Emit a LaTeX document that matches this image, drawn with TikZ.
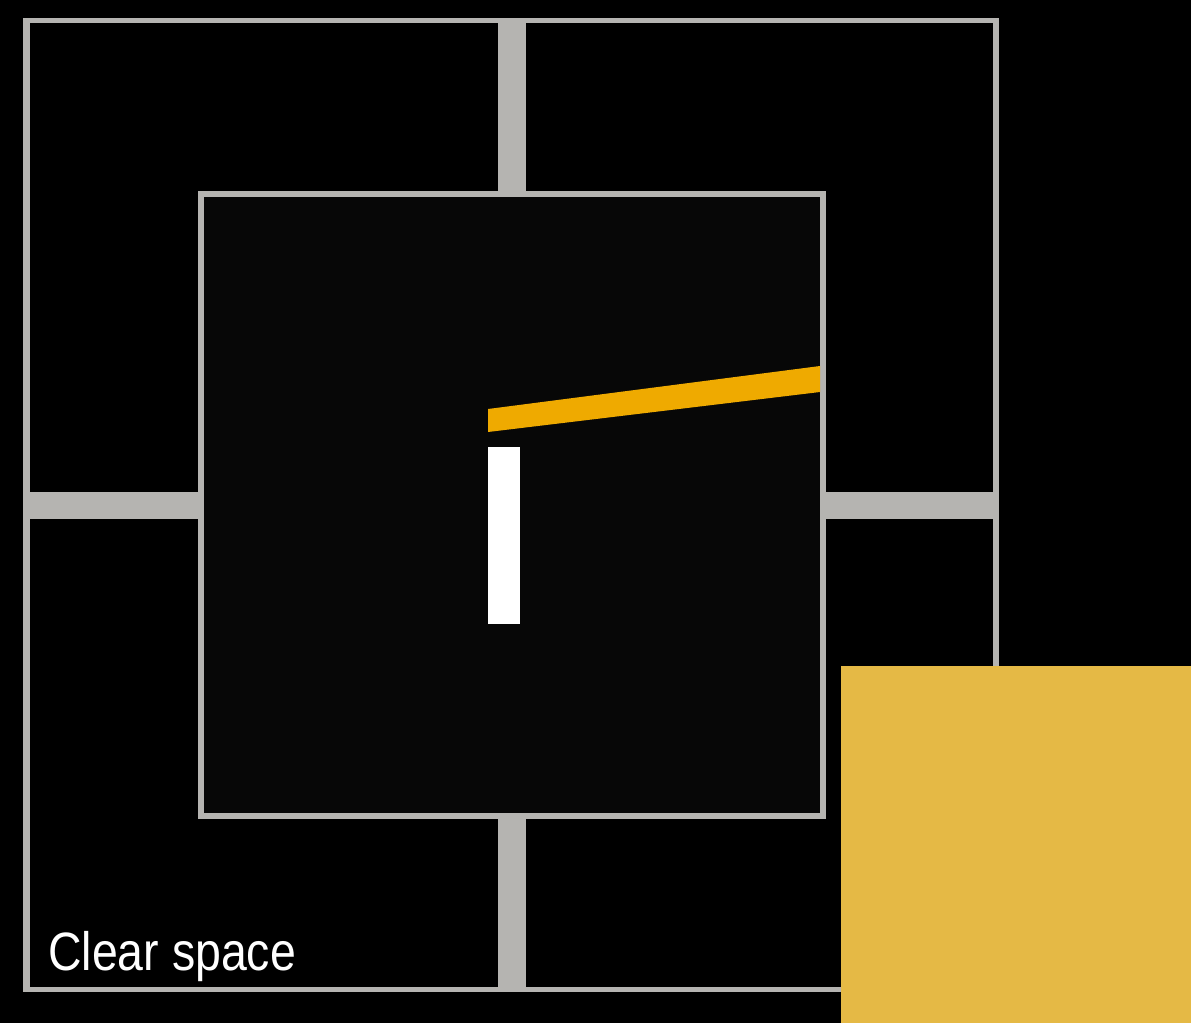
\documentclass[tikz,border=0pt]{standalone}
\usepackage{fontspec}
\setmainfont{Liberation Sans}[FakeStretch=0.86]
\usepackage{xcolor}
\usetikzlibrary{positioning}
\definecolor{gridgray}{HTML}{B5B4B1}
\definecolor{innerblack}{HTML}{070707}
\definecolor{baryellow}{HTML}{EFAA00}
\definecolor{padyellow}{HTML}{E5B945}
\tikzset{
    gridline/.style={
        fill=gridgray
    },
    cell/.style={
        fill=black
    },
    innerbox/.style={
        fill=innerblack,
        draw=gridgray,
        line width=5.5pt
    },
    label/.style={
        text=white,
        font=\fontsize{54}{60}\selectfont,
        inner sep=0pt,
        anchor=base west
    }
}

\begin{document}
\begin{tikzpicture}[x=1pt, y=-1pt]
% page
\fill[black] (0,0) rectangle (1191,1023);
\useasboundingbox (0,0) rectangle (1191,1023);

% outer grid
\fill[gridline] (23,18) rectangle (999,992);
\fill[cell] (30,23) rectangle (498,492);
\fill[cell] (526,23) rectangle (993,492);
\fill[cell] (30,519) rectangle (498,987);
\fill[cell] (526,519) rectangle (993,987);

% centre square
\draw[innerbox] (201,194) rectangle (823,816);

% mark
\fill[baryellow] (488,409) -- (820,366) -- (820,392) -- (488,432) -- cycle;
\fill[white] (488,447) rectangle (520,624);

% corner pad
\fill[padyellow] (841,666) rectangle (1191,1023);

\node[label] (clear) at (48,970) {Clear space};
\end{tikzpicture}
\end{document}
